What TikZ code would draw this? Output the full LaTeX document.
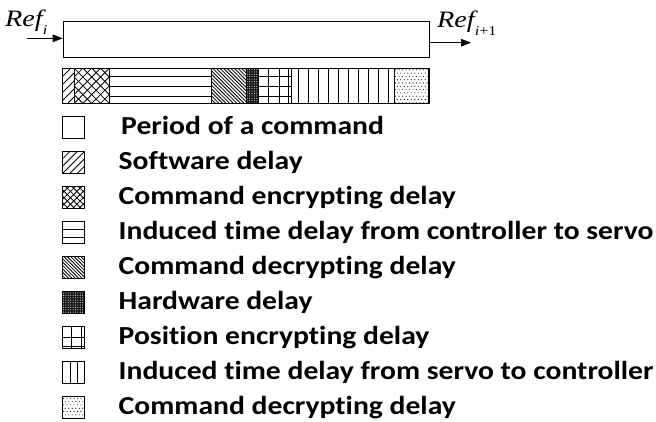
\documentclass[tikz,border=0pt]{standalone}
\usepackage{fontspec}
\newfontfamily\legfont{Carlito}[Ligatures=NoCommon]
\newfontfamily\reffont{Liberation Serif}
\usetikzlibrary{arrows.meta}
\tikzset{
  pat/.style={line width=0.8pt, line cap=butt},
  frame/.style={draw, line width=1.1pt},
  arr/.style={line width=1.1pt, -{Triangle[length=10pt,width=7.5pt]}},
  leg/.style={anchor=base west, inner sep=0pt, xscale=1.14, font=\legfont\bfseries\fontsize{26}{30}\selectfont},
  refl/.style={anchor=base west, inner sep=0pt, xscale=1.2, font=\reffont\fontsize{23.5}{26}\selectfont},
  sq/.style={draw, line width=1pt},
}
\newcommand\subsc[1]{\raisebox{-8pt}{\fontsize{13.5}{14}\selectfont #1}}
\newcommand\patNE[5]{\begin{scope}\clip (#1,#2) rectangle (#3,#4);
  \pgfmathsetmacro\hh{(#4)-(#2)}
  \foreach \k in {0,...,40}{\draw[pat] ({#1-\hh+\k*#5},#4) -- ++(\hh,-\hh);}
  \end{scope}}
\newcommand\patNW[5]{\begin{scope}\clip (#1,#2) rectangle (#3,#4);
  \pgfmathsetmacro\hh{(#4)-(#2)}
  \foreach \k in {0,...,40}{\draw[pat] ({#1-\hh+\k*#5},#2) -- ++(\hh,\hh);}
  \end{scope}}
\newcommand\patDots[4]{\begin{scope}\clip (#1,#2) rectangle (#3,#4);
  \foreach \i in {0,...,11}{\foreach \j in {0,...,11}{
    \fill ({#1+1.2+\i*3.5+mod(\j,2)*1.75},{#2+1.5+\j*3.3}) circle (0.55);}}
  \end{scope}}
\newcommand\patHW[4]{\begin{scope}\clip (#1,#2) rectangle (#3,#4);
  \fill[black!90] (#1,#2) rectangle (#3,#4);
  \foreach \i in {0,...,14}{\foreach \j in {0,...,15}{
    \fill[white] ({#1+1.2+\i*2.4},{#2+1.2+\j*2.4}) circle (0.5);}}
  \end{scope}}
\begin{document}
\begin{tikzpicture}[x=1pt,y=-1pt]
\useasboundingbox (0,0) rectangle (656,421);
% period box and references
\node[frame, minimum width=366.3pt, minimum height=36pt, inner sep=0pt, anchor=north west] (period) at (62.7,20.7) {};
\node[refl] (refi) at (5,26.5) {\itshape Ref\subsc{\itshape i}};
\node[refl] (refn) at (437,27) {\itshape Ref\subsc{\itshape i\upshape +1}};
\coordinate (rin) at (27,38.3);
\coordinate (rout) at (471,42.7);
\draw[arr] (rin) -- (rin -| period.west);
\draw[arr] (rout -| period.east) -- (rout);
% delay bar
\def\bt{68.3}\def\bb{103.3}
\patNE{62.7}{\bt}{74}{\bb}{8}
\patNE{74}{\bt}{109.3}{\bb}{8.8}
\patNW{74}{\bt}{109.3}{\bb}{8.8}
\foreach \yy in {76.7,86.7,96.7}{\draw[pat] (109.3,\yy) -- (211.7,\yy);}
\patNW{211.7}{\bt}{246}{\bb}{3.6}
\patHW{246}{\bt}{258.3}{\bb}
\foreach \yy in {76.7,86.7,96.7}{\draw[pat] (258.3,\yy) -- (291.7,\yy);}
\foreach \xx in {268.3,279,288.3}{\draw[pat] (\xx,\bt) -- (\xx,\bb);}
\foreach \xx in {298,308,318,328,338,348,358,368,378,388}{\draw[pat] (\xx,\bt) -- (\xx,\bb);}
\patDots{394.3}{\bt}{429}{\bb}
\foreach \xx in {74,109.3,211.7,246,258.3,291.7,394.3}{\draw[line width=1pt] (\xx,\bt) -- (\xx,\bb);}
\draw[line width=1.1pt] (62.7,\bt) rectangle (429,\bb);
% legend
\def\sl{62.3}\def\sr{84.3}
\foreach \n/\t [count=\k from 0] in {lp/Period of a command, ls/Software delay, lce/Command encrypting delay, lics/Induced time delay from controller to servo, lcd/Command decrypting delay, lh/Hardware delay, lpe/Position encrypting delay, lisc/Induced time delay from servo to controller, lcd2/Command decrypting delay}{
  \pgfmathsetmacro\yc{127.8+35*\k}
  \node[leg] (\n) at ({\k==0 ? 121 : 118.5},\yc+7) {\t};
}
% legend squares
\def\yc{127.8}
\draw[sq] (\sl,\yc-11) rectangle (\sr,\yc+11);
\def\yc{162.8}
\patNE{\sl}{\yc-11}{\sr}{\yc+11}{7.3}
\draw[sq] (\sl,\yc-11) rectangle (\sr,\yc+11);
\def\yc{197.8}
\patNE{\sl}{\yc-11}{\sr}{\yc+11}{6.4}
\patNW{\sl}{\yc-11}{\sr}{\yc+11}{6.4}
\draw[sq] (\sl,\yc-11) rectangle (\sr,\yc+11);
\def\yc{232.8}
\draw[pat] (\sl,\yc-3) -- (\sr,\yc-3);
\draw[pat] (\sl,\yc+4.5) -- (\sr,\yc+4.5);
\draw[sq] (\sl,\yc-11) rectangle (\sr,\yc+11);
\def\yc{267.8}
\patNW{\sl}{\yc-11}{\sr}{\yc+11}{3.4}
\draw[sq] (\sl,\yc-11) rectangle (\sr,\yc+11);
\def\yc{302.8}
\patHW{\sl}{\yc-11}{\sr}{\yc+11}
\draw[sq] (\sl,\yc-11) rectangle (\sr,\yc+11);
\def\yc{337.8}
\draw[pat] (\sl+9,\yc-11) -- (\sl+9,\yc+11);
\draw[pat] (\sl+19,\yc-11) -- (\sl+19,\yc+11);
\draw[pat] (\sl,\yc) -- (\sr,\yc);
\draw[pat] (\sl,\yc+8.5) -- (\sr,\yc+8.5);
\draw[sq] (\sl,\yc-11) rectangle (\sr,\yc+11);
\def\yc{372.8}
\draw[pat] (\sl+8.5,\yc-11) -- (\sl+8.5,\yc+11);
\draw[pat] (\sl+15,\yc-11) -- (\sl+15,\yc+11);
\draw[sq] (\sl,\yc-11) rectangle (\sr,\yc+11);
\def\yc{407.8}
\patDots{\sl}{\yc-11}{\sr}{\yc+11}
\draw[sq] (\sl,\yc-11) rectangle (\sr,\yc+11);
\end{tikzpicture}
\end{document}
